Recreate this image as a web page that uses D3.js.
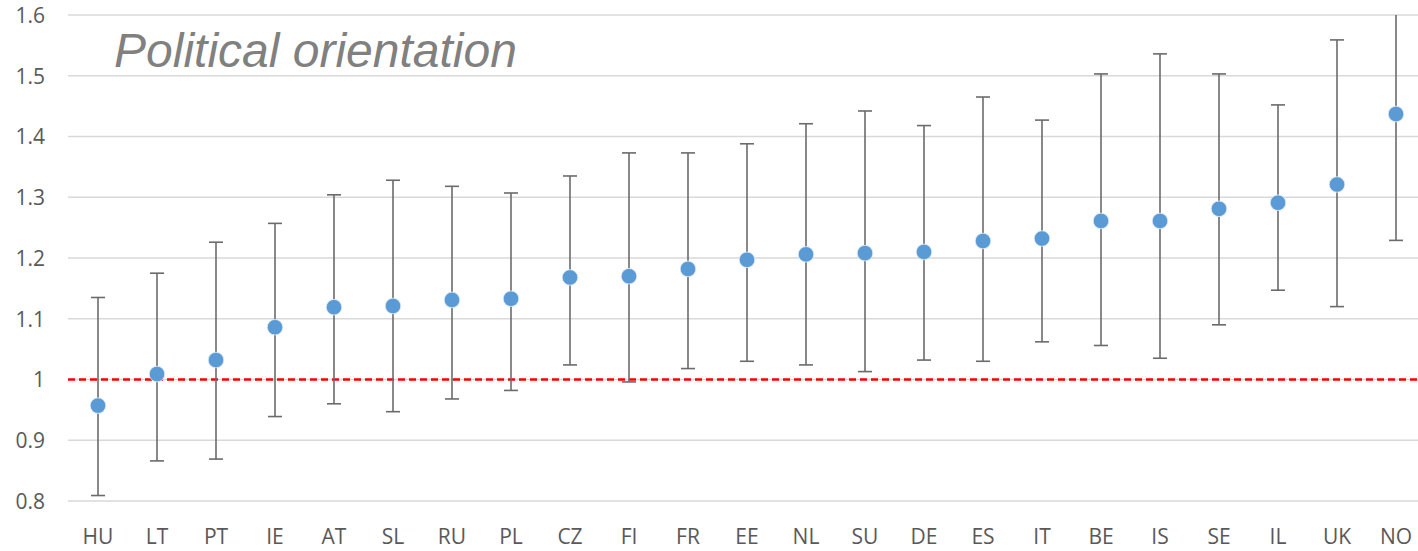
<!DOCTYPE html>
<html>
<head>
<meta charset="utf-8">
<script src="https://cdn.jsdelivr.net/npm/d3@7/dist/d3.min.js"></script>
<style>
  html, body { margin: 0; padding: 0; background: #fff; }
  svg { display: block; }
</style>
</head>
<body>
<svg id="chart" width="1418" height="551"></svg>
<script>
const categories = ["HU","LT","PT","IE","AT","SL","RU","PL","CZ","FI","FR","EE","NL","SU","DE","ES","IT","BE","IS","SE","IL","UK","NO"];
const means = [0.957,1.009,1.032,1.086,1.119,1.121,1.131,1.133,1.168,1.170,1.182,1.197,1.206,1.208,1.210,1.228,1.232,1.261,1.261,1.281,1.291,1.321,1.437];
const upper = [1.135,1.175,1.226,1.257,1.304,1.328,1.318,1.307,1.335,1.373,1.373,1.388,1.421,1.442,1.418,1.465,1.427,1.503,1.536,1.503,1.452,1.559,1.644];
const lower = [0.809,0.866,0.869,0.939,0.960,0.947,0.968,0.982,1.024,0.996,1.018,1.030,1.024,1.013,1.032,1.030,1.062,1.056,1.035,1.090,1.147,1.120,1.229];
const yTicks = [0.8,0.9,1.0,1.1,1.2,1.3,1.4,1.5,1.6];
const yTickLabels = ["0.8","0.9","1","1.1","1.2","1.3","1.4","1.5","1.6"];
const referenceValue = 1.0;
const titleText = "Political orientation";

const data = categories.map((c, i) => ({ c, m: means[i], hi: upper[i], lo: lower[i] }));

const svg = d3.select("#chart");
const W = 1418, H = 551;

const x = d3.scaleBand().domain(categories).range([68.5, 1425.5]).padding(0);
const y = d3.scaleLinear().domain([0.8, 1.6]).range([501, 15]);
const cx = d => x(d) + x.bandwidth() / 2;

svg.append("defs").append("clipPath").attr("id", "plotclip")
  .append("rect").attr("x", 0).attr("y", y(1.6)).attr("width", W).attr("height", y(0.8) - y(1.6) + 10);

// y axis labels
const yAxis = d3.axisLeft(y).tickValues(yTicks)
  .tickFormat((d, i) => yTickLabels[i]).tickSize(0).tickPadding(0);
const gy = svg.append("g").attr("transform", "translate(45,0)").call(yAxis);
gy.select(".domain").remove();
gy.selectAll("text")
  .attr("font-family", "'Open Sans', 'Noto Sans', sans-serif")
  .attr("font-size", 21).attr("fill", "#595959").attr("dy", "0.35em");

// gridlines
svg.append("g").selectAll("line").data(yTicks).join("line")
  .attr("x1", 68).attr("x2", W)
  .attr("y1", d => y(d)).attr("y2", d => y(d))
  .attr("stroke", "#d9d9d9").attr("stroke-width", 1.5);

// x axis labels
const xAxis = d3.axisBottom(x).tickSize(0).tickPadding(0);
const gx = svg.append("g").attr("transform", "translate(0,544)").call(xAxis);
gx.select(".domain").remove();
gx.selectAll("text")
  .attr("font-family", "'Open Sans', 'Noto Sans', sans-serif")
  .attr("font-size", 21).attr("fill", "#595959").attr("dy", 0);

// reference line
svg.append("line")
  .attr("x1", 68).attr("x2", W)
  .attr("y1", y(referenceValue)).attr("y2", y(referenceValue))
  .attr("stroke", "#ff0000").attr("stroke-width", 2.5).attr("stroke-dasharray", "7,4");

// title
svg.append("text")
  .attr("x", 114).attr("y", 67)
  .attr("font-family", "'Liberation Sans', Arial, sans-serif")
  .attr("font-style", "italic")
  .attr("font-size", 48).attr("fill", "#808080")
  .text(titleText);

// error bars
const eb = svg.append("g").attr("clip-path", "url(#plotclip)");
const g = eb.selectAll("g").data(data).join("g");
g.append("line")
  .attr("x1", d => cx(d.c)).attr("x2", d => cx(d.c))
  .attr("y1", d => y(d.hi)).attr("y2", d => y(d.lo))
  .attr("stroke", "#6b6b6b").attr("stroke-width", 1.6);
g.append("line")
  .attr("x1", d => cx(d.c) - 7).attr("x2", d => cx(d.c) + 7)
  .attr("y1", d => y(d.hi)).attr("y2", d => y(d.hi))
  .attr("stroke", "#6b6b6b").attr("stroke-width", 1.6);
g.append("line")
  .attr("x1", d => cx(d.c) - 7).attr("x2", d => cx(d.c) + 7)
  .attr("y1", d => y(d.lo)).attr("y2", d => y(d.lo))
  .attr("stroke", "#6b6b6b").attr("stroke-width", 1.6);

// points
svg.append("g").selectAll("circle").data(data).join("circle")
  .attr("cx", d => cx(d.c)).attr("cy", d => y(d.m))
  .attr("r", 7.8)
  .attr("fill", "#5b9bd5")
  .attr("stroke", "#e6eef8").attr("stroke-width", 0.8);
</script>
</body>
</html>
